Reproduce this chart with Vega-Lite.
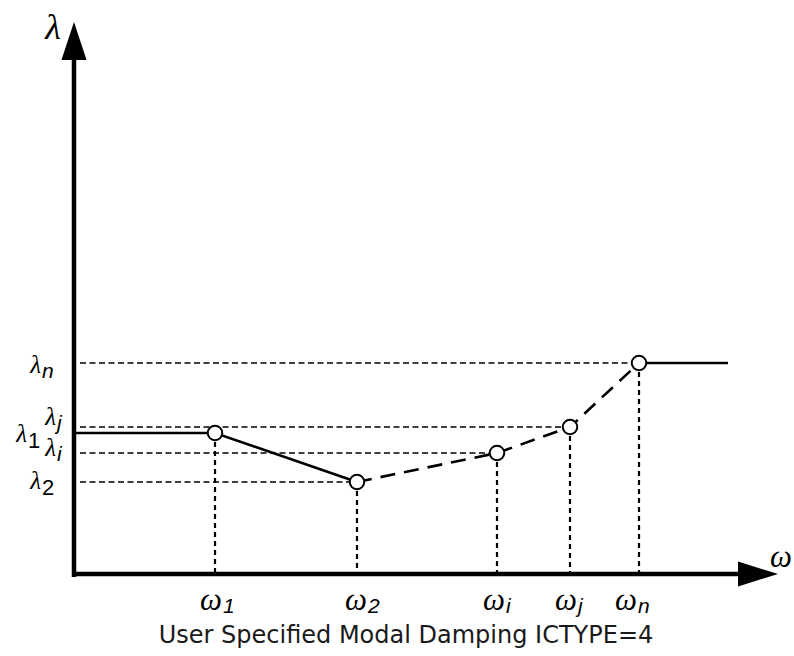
{
  "$schema": "https://vega.github.io/schema/vega-lite/v6.json",
  "width": 794,
  "height": 656,
  "autosize": {"type": "fit", "contains": "padding"},
  "padding": 0,
  "background": "white",
  "config": {"view": {"stroke": null}},
  "datasets": {
    "curve": [
      {"x": 0, "y": 14.1, "seg": "a"},
      {"x": 14.0, "y": 14.1, "seg": "a"},
      {"x": 28.2, "y": 9.2, "seg": "a"},
      {"x": 28.2, "y": 9.2, "seg": "b"},
      {"x": 42.2, "y": 12.1, "seg": "b"},
      {"x": 49.5, "y": 14.7, "seg": "b"},
      {"x": 56.4, "y": 21.1, "seg": "b"},
      {"x": 56.4, "y": 21.1, "seg": "c"},
      {"x": 65.3, "y": 21.1, "seg": "c"}
    ],
    "pts": [
      {"name": "1", "x": 14.0, "y": 14.1, "href": false},
      {"name": "2", "x": 28.2, "y": 9.2, "href": true},
      {"name": "i", "x": 42.2, "y": 12.1, "href": true},
      {"name": "j", "x": 49.5, "y": 14.7, "href": true},
      {"name": "n", "x": 56.4, "y": 21.1, "href": true}
    ],
    "axes": [
      {"x": -0.3, "y": 0, "x2": 66.8, "y2": 0},
      {"x": -0.1, "y": -0.3, "x2": -0.1, "y2": 51.6}
    ],
    "labels": [
      {"g": "lam", "sym": "λ", "sub": "n", "x": -3.4, "y": 20.9},
      {"g": "lam", "sym": "λ", "sub": "j", "x": -1.9, "y": 15.7},
      {"g": "lam", "sym": "λ", "sub": "1", "x": -4.8, "y": 14.0},
      {"g": "lam", "sym": "λ", "sub": "i", "x": -1.9, "y": 12.6},
      {"g": "lam", "sym": "λ", "sub": "2", "x": -3.4, "y": 9.3},
      {"g": "om", "sym": "ω", "sub": "1", "x": 14.7, "y": -2.7},
      {"g": "om", "sym": "ω", "sub": "2", "x": 29.2, "y": -2.7},
      {"g": "om", "sym": "ω", "sub": "i", "x": 43.0, "y": -2.7},
      {"g": "om", "sym": "ω", "sub": "j", "x": 50.2, "y": -2.7},
      {"g": "om", "sym": "ω", "sub": "n", "x": 56.2, "y": -2.7}
    ],
    "titles": [
      {"t": "λ", "x": -2.2, "y": 54.6, "k": "lam"},
      {"t": "ω", "x": 70.6, "y": 1.6, "k": "om"}
    ],
    "caption": [
      {"t": "User Specified Modal Damping ICTYPE=4", "x": 33.1, "y": -6.2}
    ]
  },
  "encoding": {
    "x": {"field": "x", "type": "quantitative", "axis": null,
          "scale": {"domain": [-7.5, 71.9], "nice": false, "zero": false}},
    "y": {"field": "y", "type": "quantitative", "axis": null,
          "scale": {"domain": [-8.2, 57.4], "nice": false, "zero": false}}
  },
  "layer": [
    {
      "data": {"name": "pts"},
      "transform": [{"filter": "datum.href"}],
      "mark": {"type": "rule", "color": "black", "strokeWidth": 1.3, "strokeDash": [6, 3.5]},
      "encoding": {"x": {"datum": 0.5}, "x2": {"field": "x"}}
    },
    {
      "data": {"name": "pts"},
      "mark": {"type": "rule", "color": "black", "strokeWidth": 2.2, "strokeDash": [5, 4]},
      "encoding": {"y2": {"datum": 0}}
    },
    {
      "data": {"name": "axes"},
      "mark": {"type": "rule", "color": "black", "strokeWidth": 4.5},
      "encoding": {"x2": {"field": "x2"}, "y2": {"field": "y2"}}
    },
    {
      "data": {"values": [{"x": 68.3, "y": 0}]},
      "mark": {"type": "point", "shape": "M1,0L-1,-0.62L-1,0.62Z", "size": 1600, "filled": true, "color": "black", "opacity": 1, "strokeWidth": 0}
    },
    {
      "data": {"values": [{"x": -0.1, "y": 53.3}]},
      "mark": {"type": "point", "shape": "M0,-1L0.66,1L-0.66,1Z", "size": 1444, "filled": true, "color": "black", "opacity": 1, "strokeWidth": 0}
    },
    {
      "data": {"name": "curve"},
      "transform": [{"filter": "datum.seg !== 'b'"}],
      "mark": {"type": "line", "color": "black", "strokeWidth": 2.6},
      "encoding": {"detail": {"field": "seg"}}
    },
    {
      "data": {"name": "curve"},
      "transform": [{"filter": "datum.seg === 'b'"}],
      "mark": {"type": "line", "color": "black", "strokeWidth": 2.6, "strokeDash": [15, 9]},
      "encoding": {}
    },
    {
      "data": {"name": "pts"},
      "mark": {"type": "point", "shape": "circle", "size": 210, "filled": true, "fill": "white", "stroke": "black", "strokeWidth": 2, "opacity": 1}
    },
    {
      "data": {"name": "labels"},
      "transform": [{"filter": "datum.g === 'lam'"}],
      "mark": {"type": "text", "align": "right", "baseline": "middle", "font": "Liberation Serif", "fontStyle": "italic", "fontSize": 25, "color": "black"},
      "encoding": {"text": {"field": "sym"}}
    },
    {
      "data": {"name": "labels"},
      "transform": [{"filter": "datum.g === 'lam' && (datum.sub === '1' || datum.sub === '2')"}],
      "mark": {"type": "text", "align": "left", "baseline": "middle", "font": "Liberation Sans", "fontSize": 22, "dx": 1, "dy": 7, "color": "black"},
      "encoding": {"text": {"field": "sub"}}
    },
    {
      "data": {"name": "labels"},
      "transform": [{"filter": "datum.g === 'lam' && datum.sub !== '1' && datum.sub !== '2'"}],
      "mark": {"type": "text", "align": "left", "baseline": "middle", "font": "Liberation Sans", "fontStyle": "italic", "fontSize": 21, "dx": 1, "dy": 7, "color": "black"},
      "encoding": {"text": {"field": "sub"}}
    },
    {
      "data": {"name": "labels"},
      "transform": [{"filter": "datum.g === 'om'"}],
      "mark": {"type": "text", "align": "right", "baseline": "middle", "font": "Liberation Serif", "fontStyle": "italic", "fontSize": 31, "color": "black"},
      "encoding": {"text": {"field": "sym"}}
    },
    {
      "data": {"name": "labels"},
      "transform": [{"filter": "datum.g === 'om'"}],
      "mark": {"type": "text", "align": "left", "baseline": "middle", "font": "Liberation Sans", "fontStyle": "italic", "fontSize": 21, "dx": 1, "dy": 6, "color": "black"},
      "encoding": {"text": {"field": "sub"}}
    },
    {
      "data": {"name": "titles"},
      "transform": [{"filter": "datum.k === 'lam'"}],
      "mark": {"type": "text", "align": "center", "baseline": "middle", "font": "Liberation Serif", "fontStyle": "italic", "fontSize": 36, "color": "black"},
      "encoding": {"text": {"field": "t"}}
    },
    {
      "data": {"name": "titles"},
      "transform": [{"filter": "datum.k === 'om'"}],
      "mark": {"type": "text", "align": "center", "baseline": "middle", "font": "Liberation Serif", "fontStyle": "italic", "fontSize": 31, "color": "black"},
      "encoding": {"text": {"field": "t"}}
    },
    {
      "data": {"name": "caption"},
      "mark": {"type": "text", "align": "center", "baseline": "middle", "font": "DejaVu Sans", "fontSize": 24, "color": "#1a1a1a"},
      "encoding": {"text": {"field": "t"}}
    }
  ]
}
